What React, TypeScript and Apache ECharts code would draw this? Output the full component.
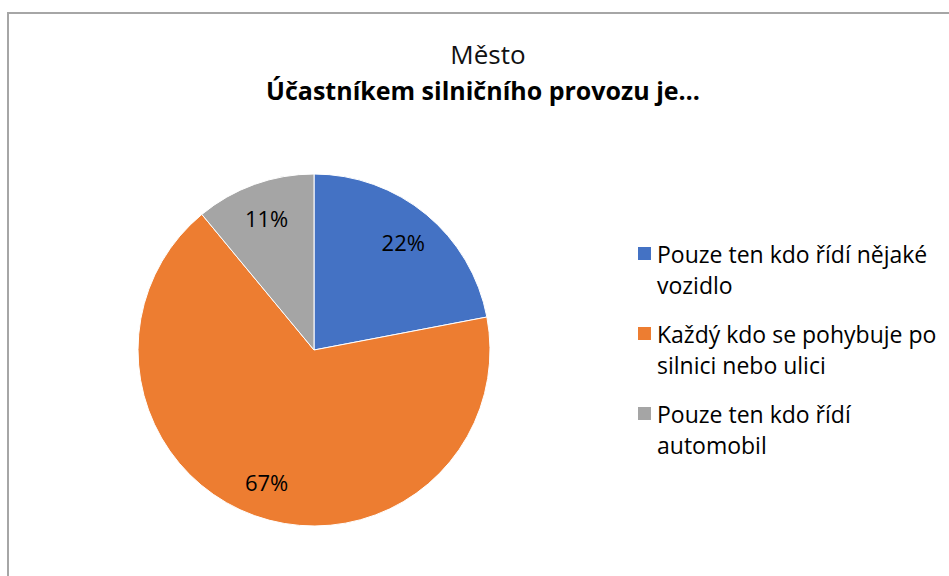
import React, { useEffect, useRef } from "react";
import * as echarts from "echarts";

const categories = [
  "Pouze ten kdo řídí nějaké\nvozidlo",
  "Každý kdo se pohybuje po\nsilnici nebo ulici",
  "Pouze ten kdo řídí\nautomobil",
];
const values = [22, 67, 11];
const colors = ["#4472C4", "#ED7D31", "#A5A5A5"];
const titleLine1 = "Město";
const titleLine2 = "Účastníkem silničního provozu je…";

const FONT = "Open Sans";

export default function App() {
  const ref = useRef<HTMLDivElement>(null);
  useEffect(() => {
    if (!ref.current) return;
    const chart = echarts.init(ref.current, undefined, { renderer: "svg" });
    const data = categories.map((name, i) => ({
      name,
      value: values[i],
      itemStyle: { color: colors[i] },
    }));
    chart.setOption({
      animation: false,
      backgroundColor: "#ffffff",
      graphic: [
        {
          type: "rect",
          shape: { x: 8, y: 13, width: 1000, height: 1000 },
          style: { fill: "none", stroke: "#a6a6a6", lineWidth: 2 },
          silent: true,
        },
      ],
      title: [
        {
          text: titleLine1,
          left: 483,
          top: 33,
          textAlign: "center",
          textStyle: { fontFamily: FONT, fontSize: 26, fontWeight: "normal", color: "#111", lineHeight: 32 },
        },
        {
          text: titleLine2,
          left: 478,
          top: 70,
          textAlign: "center",
          textStyle: { fontFamily: FONT, fontSize: 25, fontWeight: "bold", color: "#000", lineHeight: 30 },
        },
      ],
      legend: {
        orient: "vertical",
        left: 631,
        top: 202,
        itemWidth: 15,
        itemHeight: 15,
        itemGap: -13,
        textGap: 3,
        icon: "rect",
        formatter: (name: string) => "\n" + name,
        textStyle: { fontFamily: FONT, fontSize: 23, color: "#000", lineHeight: 31 },
        data: categories,
      },
      series: [
        {
          type: "pie",
          center: [314, 350],
          radius: [0, 176],
          startAngle: 90,
          clockwise: true,
          label: { show: false },
          labelLine: { show: false },
          itemStyle: { borderColor: "#fff", borderWidth: 1 },
          data,
        },
        {
          type: "pie",
          center: [314, 350],
          radius: [98, 176],
          startAngle: 90,
          clockwise: true,
          silent: true,
          itemStyle: { color: "transparent", borderWidth: 0 },
          label: {
            show: true,
            position: "inside",
            formatter: "{c}%",
            fontFamily: FONT,
            fontSize: 22,
            color: "#000",
          },
          labelLine: { show: false },
          legendHoverLink: false,
          data: categories.map((name, i) => ({
            name: name + " ",
            value: values[i],
            itemStyle: { color: "transparent" },
          })),
        },
      ],
    });
    return () => chart.dispose();
  }, []);
  return (
    <div
      ref={ref}
      style={{ position: "absolute", left: 0, top: 0, width: 949, height: 576 }}
    />
  );
}
